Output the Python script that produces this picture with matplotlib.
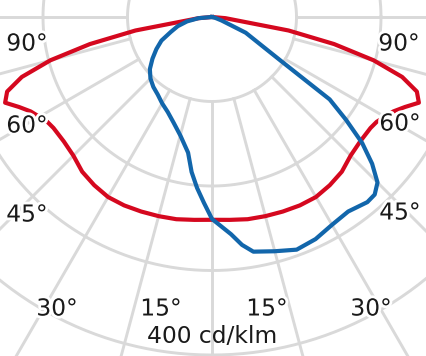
import numpy as np
import matplotlib
matplotlib.use('Agg')
from matplotlib import pyplot as plt
import matplotlib.patheffects as pe

# luminous intensity in cd/klm, angle measured from nadir (negative = left side)
red_angles = [0, 5, 10, 15, 20, 25, 30, 35, 40, 45, 50, 55, 57.5, 60, 62.5, 65,
              67.5, 70, 72.5, 75, 77.5, 80, 85, 90]
red_values = [240, 241, 243, 244, 245, 246, 246, 243, 239, 232, 229, 229, 231,
              236, 242, 252, 265, 258, 236, 198, 148, 92, 16, 0]

blue_angles = [-90, -85, -80, -75, -70, -65, -60, -55, -50, -45, -40, -35, -30,
               -25, -20, -15, -10, -7.5, -5, -2.5, 0, 5, 7.5, 10, 15, 20, 25,
               30, 35, 40, 42.5, 45, 47.5, 50, 52.5, 55, 57.5, 60, 65, 70, 75, 90]
blue_values = [0, 16, 30, 42, 52, 66, 76, 86, 96, 103, 108, 112, 118,
               124, 133, 145, 163, 185, 203, 220, 239, 258, 272, 282, 287, 293, 290,
               284, 281, 286, 285, 277, 257, 232, 200, 170, 97, 69, 44, 12, 4, 0]

rings = [100, 200, 300, 400]
spokes = np.arange(-90, 91, 15)

labels = ['90°', '90°', '60°', '60°', '45°', '45°', '30°', '15°', '15°', '30°']
label_px = [(27, 44), (399, 44), (27, 126), (400, 124), (27, 215), (400, 213),
            (57, 309), (161, 309), (267, 309), (371, 309)]
unit_label = '400 cd/klm'

W, H = 427, 356
cx, cy = 212, 17
scale = 0.845  # pixels per cd/klm


def to_xy(ang, val):
    a = np.radians(np.asarray(ang, dtype=float))
    v = np.asarray(val, dtype=float)
    return v * np.sin(a), -v * np.cos(a)


def px(p):
    return (p[0] - cx) / scale, (cy - p[1]) / scale


fig = plt.figure(figsize=(W / 100, H / 100), dpi=100)
ax = fig.add_axes([0, 0, 1, 1])
ax.set_xlim(-cx / scale, (W - cx) / scale)
ax.set_ylim(-(H - cy) / scale, cy / scale)
ax.axis('off')

grid_c = '#d9d9d9'
t = np.linspace(0, 2 * np.pi, 400)
for r in rings:
    ax.plot(r * np.cos(t), r * np.sin(t), color=grid_c, lw=2.1, zorder=1)
for s in spokes:
    x, y = to_xy([s, s], [rings[0], 700])
    ax.plot(x, y, color=grid_c, lw=2.1, zorder=1)

rx, ry = to_xy(red_angles, red_values)
rx = np.concatenate([-rx[::-1], rx])
ry = np.concatenate([ry[::-1], ry])
ax.plot(rx, ry, color='#d5081f', lw=3.0, zorder=2, solid_joinstyle='round')

bx, by = to_xy(blue_angles, blue_values)
ax.plot(bx, by, color='#1266ab', lw=3.0, zorder=3, solid_joinstyle='round')

halo = [pe.withStroke(linewidth=4, foreground='white')]
for txt, p in zip(labels, label_px):
    x, y = px(p)
    ax.text(x, y, txt, ha='center', va='center', fontsize=16.8, color='#1a1a1a',
            zorder=4, path_effects=halo)

x, y = px((212, 336))
ax.text(x, y, unit_label, ha='center', va='center', fontsize=16.8, color='#1a1a1a', zorder=4)

fig.savefig('out.png', dpi=100)
